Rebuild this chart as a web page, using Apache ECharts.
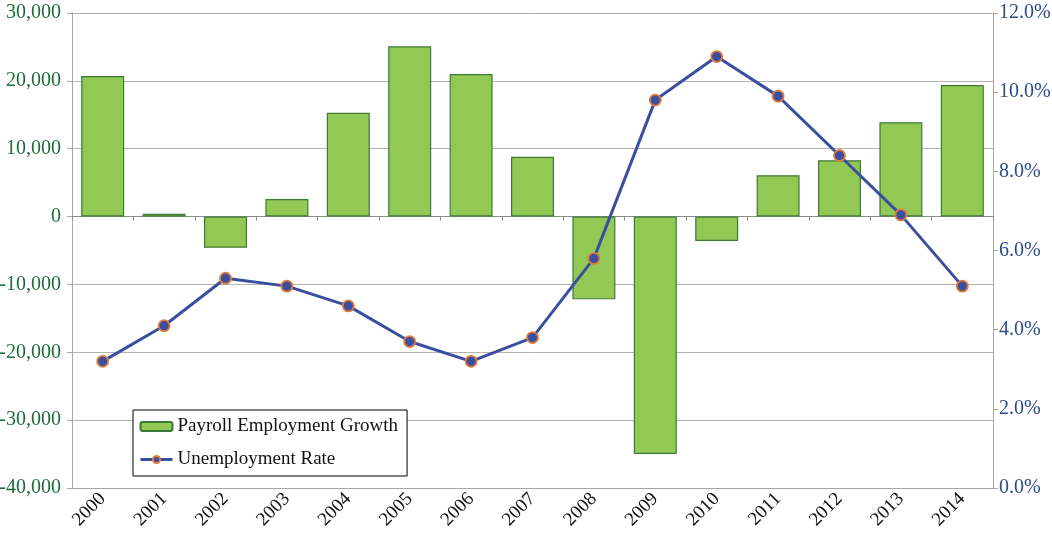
<!DOCTYPE html>
<html><head><meta charset="utf-8">
<script src="https://cdn.jsdelivr.net/npm/echarts@6/dist/echarts.min.js"></script>
<style>html,body{margin:0;padding:0;background:#fff}#c{width:1052px;height:544px}</style>
</head><body><div id="c"></div>
<script>
const years = ['2000','2001','2002','2003','2004','2005','2006','2007','2008','2009','2010','2011','2012','2013','2014'];
const payrollGrowth = [20700, 400, -4600, 2600, 15300, 25100, 21000, 8800, -12200, -35000, -3600, 6100, 8300, 13900, 19400];
const unemploymentRate = [3.2, 4.1, 5.3, 5.1, 4.6, 3.7, 3.2, 3.8, 5.8, 9.8, 10.9, 9.9, 8.4, 6.9, 5.1];
const seriesNames = ['Payroll Employment Growth', 'Unemployment Rate'];

const FONT = '"Liberation Serif", "Times New Roman", serif';
const chart = echarts.init(document.getElementById('c'), null, {renderer: 'canvas'});
chart.setOption({
  backgroundColor: '#fff',
  animation: false,
  grid: {left: 72, right: 59, top: 13, bottom: 56, containLabel: false, outerBoundsMode: 'none'},
  legend: {
    orient: 'vertical', left: 133, top: 410,
    backgroundColor: '#fff', borderColor: '#000', borderWidth: 1,
    padding: [7, 9, 7, 6],
    itemGap: 14, itemWidth: 32, itemHeight: 9,
    textStyle: {fontFamily: FONT, fontSize: 19, color: '#111'},
    data: [
      {name: seriesNames[0]},
      {name: seriesNames[1], lineStyle: {width: 3, color: '#3b4fa0'}}
    ]
  },
  xAxis: [{
    type: 'category', data: years, position: 'bottom',
    axisLine: {onZero: false, lineStyle: {color: '#a6a6a6'}},
    axisTick: {show: false},
    axisLabel: {rotate: 45, fontFamily: FONT, fontSize: 19, color: '#111', margin: 8}
  }, {
    type: 'category', data: years, position: 'bottom',
    axisLine: {onZero: true, lineStyle: {color: '#8c8c8c', width: 1}},
    axisTick: {show: true, length: 4, lineStyle: {color: '#8c8c8c'}},
    axisLabel: {show: false}
  }],
  yAxis: [{
    type: 'value', min: -40000, max: 30000, interval: 10000,
    axisLine: {show: true, lineStyle: {color: '#a6a6a6'}},
    axisTick: {show: true, length: 5, lineStyle: {color: '#a6a6a6'}},
    splitLine: {lineStyle: {color: '#b3b3b3'}},
    axisLabel: {fontFamily: FONT, fontSize: 20, color: '#1e6b3c', margin: 11,
      formatter: v => v.toLocaleString('en-US')}
  }, {
    type: 'value', min: 0, max: 12, interval: 2, position: 'right',
    axisLine: {show: true, lineStyle: {color: '#a6a6a6'}},
    axisTick: {show: true, length: 5, lineStyle: {color: '#a6a6a6'}},
    splitLine: {show: false},
    axisLabel: {fontFamily: FONT, fontSize: 20, color: '#2e4a8c', margin: 6,
      formatter: v => v.toFixed(1) + '%'}
  }],
  series: [{
    name: seriesNames[0], type: 'bar', data: payrollGrowth,
    xAxisIndex: 0, yAxisIndex: 0,
    barCategoryGap: '30%',
    itemStyle: {color: '#92c955', borderColor: '#3d7a35', borderWidth: 1.2}
  }, {
    name: seriesNames[1], type: 'line', data: unemploymentRate,
    xAxisIndex: 0, yAxisIndex: 1,
    symbol: 'circle', symbolSize: 11,
    lineStyle: {color: '#3b4fa0', width: 3},
    itemStyle: {color: '#3b4fa0', borderColor: '#e07a3a', borderWidth: 1.8}
  }]
});
</script></body></html>
